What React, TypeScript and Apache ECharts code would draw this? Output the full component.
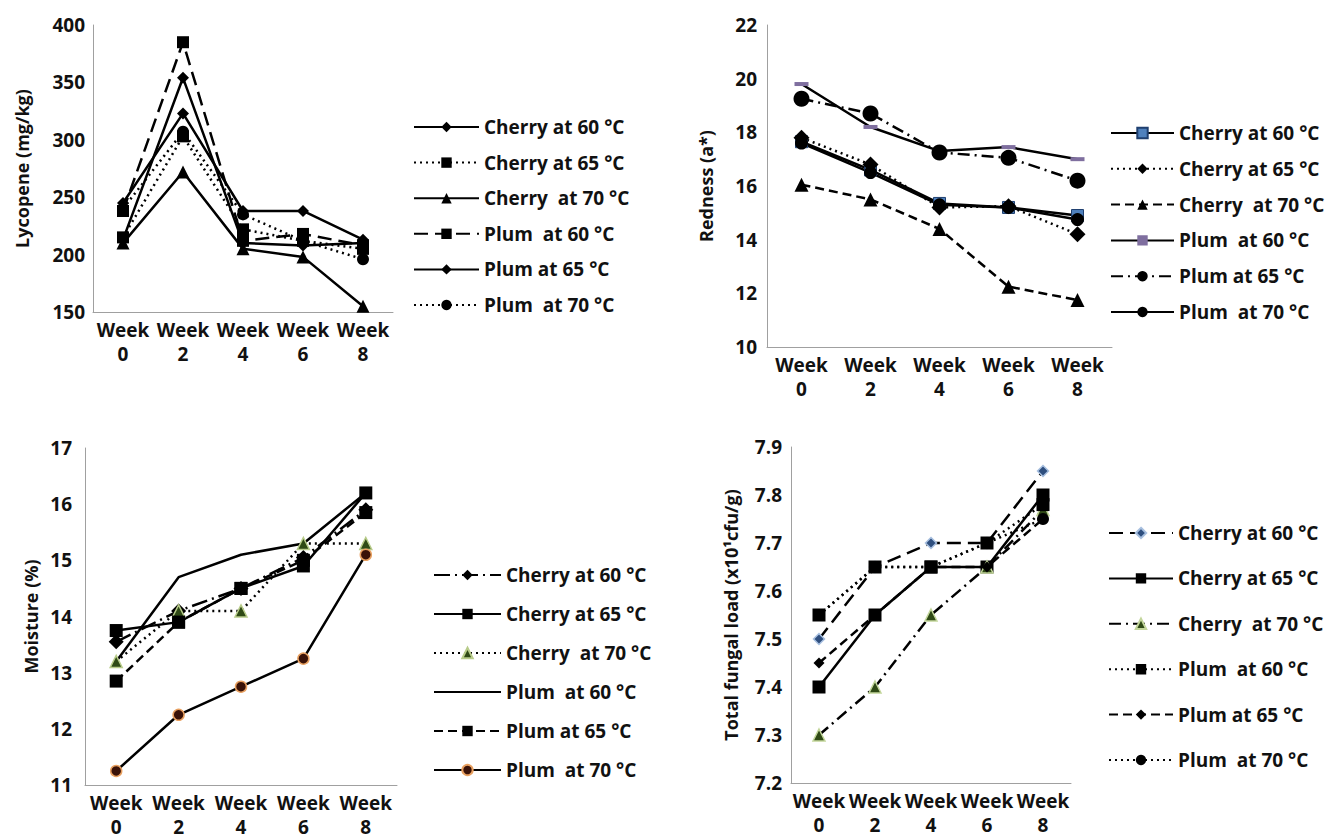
import React, { useEffect, useRef } from "react";
import * as echarts from "echarts";

const FONT = "'Open Sans', 'Liberation Sans', sans-serif";

// ---------- shared categories & legend labels ----------
const weeks = ["Week 0", "Week 2", "Week 4", "Week 6", "Week 8"];
const labels = [
  "Cherry at 60 °C",
  "Cherry at 65 °C",
  "Cherry  at 70 °C",
  "Plum  at 60 °C",
  "Plum at 65 °C",
  "Plum  at 70 °C",
];

// ---------- Panel A: Lycopene (mg/kg) ----------
const lycCherry60 = [245, 323, 238, 238, 213];
const lycCherry65 = [215, 303, 222, 212, 205];
const lycCherry70 = [210, 272, 205, 198, 155];
const lycPlum60 = [238, 385, 212, 218, 208];
const lycPlum65 = [213, 354, 210, 208, 210];
const lycPlum70 = [240, 307, 235, 212, 196];

// ---------- Panel B: Redness (a*) ----------
const redCherry60 = [17.65, 16.6, 15.35, 15.2, 14.9];
const redCherry65 = [17.8, 16.8, 15.2, 15.25, 14.2];
const redCherry70 = [16.05, 15.5, 14.4, 12.25, 11.75];
const redPlum60 = [19.8, 18.2, 17.3, 17.45, 17.0];
const redPlum65 = [19.25, 18.7, 17.25, 17.05, 16.2];
const redPlum70 = [17.6, 16.5, 15.3, 15.2, 14.75];

// ---------- Panel C: Moisture (%) ----------
const moiCherry60 = [13.55, 14.1, 14.5, 15.05, 15.9];
const moiCherry65 = [13.75, 13.9, 14.5, 14.9, 16.2];
const moiCherry70 = [13.2, 14.1, 14.1, 15.3, 15.3];
const moiPlum60 = [13.2, 14.7, 15.1, 15.3, 16.2];
const moiPlum65 = [12.85, 13.9, 14.5, 15.0, 15.85];
const moiPlum70 = [11.25, 12.25, 12.75, 13.25, 15.1];

// ---------- Panel D: Total fungal load ----------
const funCherry60 = [7.5, 7.65, 7.7, 7.7, 7.85];
const funCherry65 = [7.4, 7.55, 7.65, 7.65, 7.8];
const funCherry70 = [7.3, 7.4, 7.55, 7.65, 7.77];
const funPlum60 = [7.55, 7.65, 7.65, 7.7, 7.78];
const funPlum65 = [7.45, 7.55, 7.65, 7.65, 7.75];
const funPlum70 = [7.55, 7.65, 7.65, 7.7, 7.75];

const SOLID = "solid";
const DOT = [2, 4];
const DASH = [9, 5];
const LONGDASH = [14, 7];
const DASHDOT = [12, 5, 2, 5];

type Sty = {
  line: any;
  symbol: string;
  size: any;
  color?: string;
  border?: string;
  bw?: number;
};

function buildOption(p: any) {
  const series = p.data.map((d: number[], i: number) => {
    const s: Sty = p.styles[i];
    return {
      type: "line",
      name: labels[i],
      data: d,
      symbol: s.symbol,
      symbolSize: s.size,
      showSymbol: s.symbol !== "none",
      lineStyle: { color: "#000", width: 2.5, type: s.line },
      itemStyle: {
        color: s.color || "#000",
        borderColor: s.border || s.color || "#000",
        borderWidth: s.bw ?? 0,
      },
      emphasis: { disabled: true },
      z: 2,
    };
  });
  const legendData = labels.map((n, i) =>
    p.styles[i].symbol === "none"
      ? { name: n, itemStyle: { opacity: 0 } }
      : { name: n }
  );
  return {
    animation: false,
    textStyle: { fontFamily: FONT },
    grid: {
      left: p.grid[0],
      top: p.grid[1],
      width: p.grid[2],
      height: p.grid[3],
    },
    legend: {
      orient: "vertical",
      left: p.legend[0],
      top: p.legend[1],
      itemWidth: p.legend[2],
      itemHeight: 13,
      itemGap: p.legend[3],
      padding: 0,
      selectedMode: false,
      data: legendData,
      textStyle: {
        fontFamily: FONT,
        fontSize: 19,
        fontWeight: "bold",
        color: "#111",
        lineHeight: 20,
      },
    },
    xAxis: {
      type: "category",
      data: weeks,
      boundaryGap: true,
      axisLine: { lineStyle: { color: "#a0a0a0", width: 1 } },
      axisTick: { show: false },
      axisLabel: {
        interval: 0,
        formatter: (v: string) => v.replace(" ", "\n"),
        fontFamily: FONT,
        fontSize: 19,
        fontWeight: "bold",
        color: "#111",
        lineHeight: 24,
        margin: 6,
      },
    },
    yAxis: {
      type: "value",
      min: p.y[0],
      max: p.y[1],
      interval: p.y[2],
      name: p.name,
      nameLocation: "middle",
      nameGap: p.nameGap,
      nameTextStyle: {
        fontFamily: FONT,
        fontSize: 18,
        fontWeight: "bold",
        color: "#111",
      },
      axisLine: { show: true, lineStyle: { color: "#a0a0a0", width: 1 } },
      axisTick: { show: false },
      splitLine: { show: false },
      axisLabel: {
        fontFamily: FONT,
        fontSize: 19,
        fontWeight: "bold",
        color: "#111",
        margin: p.labelMargin,
        formatter: p.fmt,
      },
    },
    series,
  };
}

const panels = [
  {
    left: 0,
    top: 0,
    grid: [93, 25, 300, 287],
    legend: [413, 117, 65, 15.6],
    y: [150, 400, 50],
    name: "Lycopene (mg/kg)",
    nameGap: 62,
    labelMargin: 8,
    data: [lycCherry60, lycCherry65, lycCherry70, lycPlum60, lycPlum65, lycPlum70],
    styles: [
      { line: SOLID, symbol: "diamond", size: 12 },
      { line: DOT, symbol: "rect", size: 12 },
      { line: SOLID, symbol: "triangle", size: 13 },
      { line: LONGDASH, symbol: "rect", size: 12 },
      { line: SOLID, symbol: "diamond", size: 12 },
      { line: DOT, symbol: "circle", size: 12 },
    ],
  },
  {
    left: 669,
    top: 0,
    grid: [98, 25, 345, 322],
    legend: [441, 123, 63, 15.8],
    y: [10, 22, 2],
    name: "Redness (a*)",
    nameGap: 52,
    labelMargin: 10,
    data: [redCherry60, redCherry65, redCherry70, redPlum60, redPlum65, redPlum70],
    styles: [
      { line: SOLID, symbol: "rect", size: 12, color: "#4f81bd", border: "#1f3f6f", bw: 1 },
      { line: DOT, symbol: "diamond", size: 16 },
      { line: DASH, symbol: "triangle", size: 14 },
      { line: SOLID, symbol: "rect", size: [14, 4], color: "#7f6f9f" },
      { line: DASHDOT, symbol: "circle", size: 16 },
      { line: SOLID, symbol: "circle", size: 13 },
    ],
  },
  {
    left: 0,
    top: 420,
    grid: [85, 28, 312, 337],
    legend: [433, 145, 67, 19],
    y: [11, 17, 1],
    name: "Moisture (%)",
    nameGap: 45,
    labelMargin: 13,
    data: [moiCherry60, moiCherry65, moiCherry70, moiPlum60, moiPlum65, moiPlum70],
    styles: [
      { line: [16, 5, 2, 5], symbol: "diamond", size: 15 },
      { line: SOLID, symbol: "rect", size: 13 },
      { line: DOT, symbol: "triangle", size: 12, color: "#2f4a16", border: "#b8cc8a", bw: 1.5 },
      { line: SOLID, symbol: "none", size: 0 },
      { line: DASH, symbol: "rect", size: 13 },
      { line: SOLID, symbol: "circle", size: 11, color: "#3a1208", border: "#e8a060", bw: 1.5 },
    ],
  },
  {
    left: 669,
    top: 420,
    grid: [122, 27, 280, 336],
    legend: [439, 103, 64, 25.4],
    y: [7.2, 7.9, 0.1],
    name: "Total fungal load (x10¹cfu/g)",
    nameGap: 51,
    labelMargin: 9,
    fmt: (v: number) => v.toFixed(1),
    data: [funCherry60, funCherry65, funCherry70, funPlum60, funPlum65, funPlum70],
    styles: [
      { line: LONGDASH, symbol: "diamond", size: 11, color: "#2f4f7f", border: "#a8c0e0", bw: 1.5 },
      { line: SOLID, symbol: "rect", size: 13 },
      { line: DASHDOT, symbol: "triangle", size: 12, color: "#2f4a16", border: "#c3d69b", bw: 1.5 },
      { line: DOT, symbol: "rect", size: 13 },
      { line: DASH, symbol: "diamond", size: 11 },
      { line: DOT, symbol: "circle", size: 12 },
    ],
  },
];

function Panel({ cfg }: { cfg: any }) {
  const ref = useRef<HTMLDivElement>(null);
  useEffect(() => {
    const chart = echarts.init(ref.current!, null, { renderer: "svg" });
    chart.setOption(buildOption(cfg));
    return () => chart.dispose();
  }, [cfg]);
  return (
    <div
      ref={ref}
      style={{
        position: "absolute",
        left: cfg.left,
        top: cfg.top,
        width: 669,
        height: 420,
      }}
    />
  );
}

export default function App() {
  return (
    <div
      style={{
        position: "absolute",
        left: 0,
        top: 0,
        width: 1338,
        height: 840,
        background: "#fff",
      }}
    >
      {panels.map((p, i) => (
        <Panel key={i} cfg={p} />
      ))}
    </div>
  );
}
